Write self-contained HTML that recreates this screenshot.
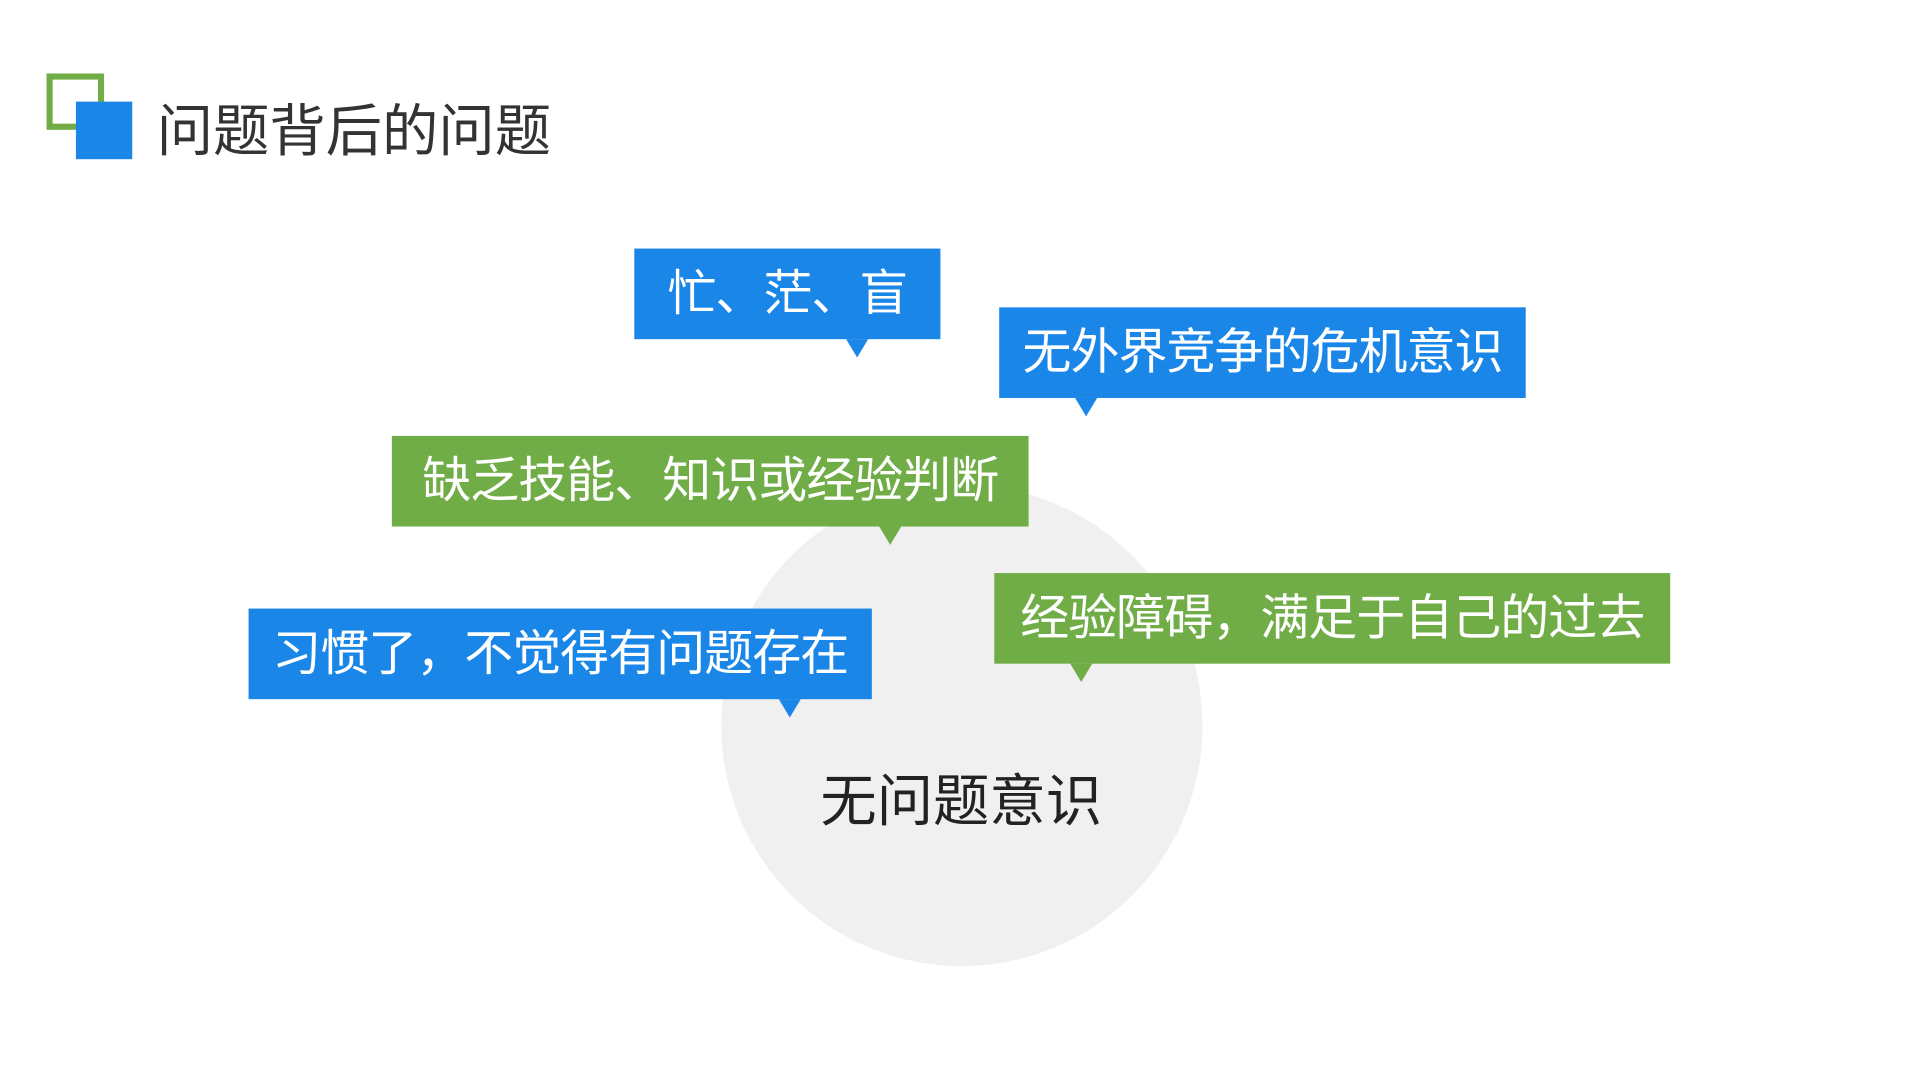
<!DOCTYPE html>
<html><head><meta charset="utf-8"><style>
html,body{margin:0;padding:0;background:#fff;width:1920px;height:1080px;overflow:hidden}
#w{position:absolute;left:0;top:0;width:1568px;height:882px;transform:scale(1.22449,1.22449);transform-origin:0 0;font-family:"Liberation Sans","Noto Sans CJK SC",sans-serif}
.a{position:absolute}
.b{position:absolute;height:74px;line-height:74px;color:#fff;font-size:40px;letter-spacing:-0.8px;text-align:center;white-space:nowrap}
.bl{background:#1a86e8}.gr{background:#70ad47}
.t{position:absolute;width:0;height:0;border-left:9px solid transparent;border-right:9px solid transparent;border-top:15px solid}
</style></head><body><div id="w">
<div class="a" style="left:38px;top:60px;width:37px;height:36px;border:5px solid #70ad47"></div>
<div class="a" style="left:62px;top:83px;width:46px;height:47px;background:#1a86e8"></div>
<div class="a" style="left:128px;top:78px;font-size:46px;line-height:58px;color:#333">问题背后的问题</div>
<div class="a" style="left:589px;top:396px;width:393px;height:393px;border-radius:50%;background:#f0f0f0"></div>
<div class="a" style="left:585px;top:624px;width:400px;text-align:center;font-size:46px;line-height:60px;color:#222">无问题意识</div>

<div class="b bl" style="left:518px;top:203px;width:250px">忙、茫、盲</div>
<div class="t" style="left:691px;top:277px;border-top-color:#1a86e8"></div>

<div class="b bl" style="left:816px;top:251px;width:430px">无外界竞争的危机意识</div>
<div class="t" style="left:878px;top:325px;border-top-color:#1a86e8"></div>

<div class="b gr" style="left:320px;top:356px;width:520px">缺乏技能、知识或经验判断</div>
<div class="t" style="left:718px;top:430px;border-top-color:#70ad47"></div>

<div class="b gr" style="left:812px;top:468px;width:552px">经验障碍，满足于自己的过去</div>
<div class="t" style="left:874px;top:542px;border-top-color:#70ad47"></div>

<div class="b bl" style="left:203px;top:497px;width:509px">习惯了，不觉得有问题存在</div>
<div class="t" style="left:636px;top:571px;border-top-color:#1a86e8"></div>
</div></body></html>
